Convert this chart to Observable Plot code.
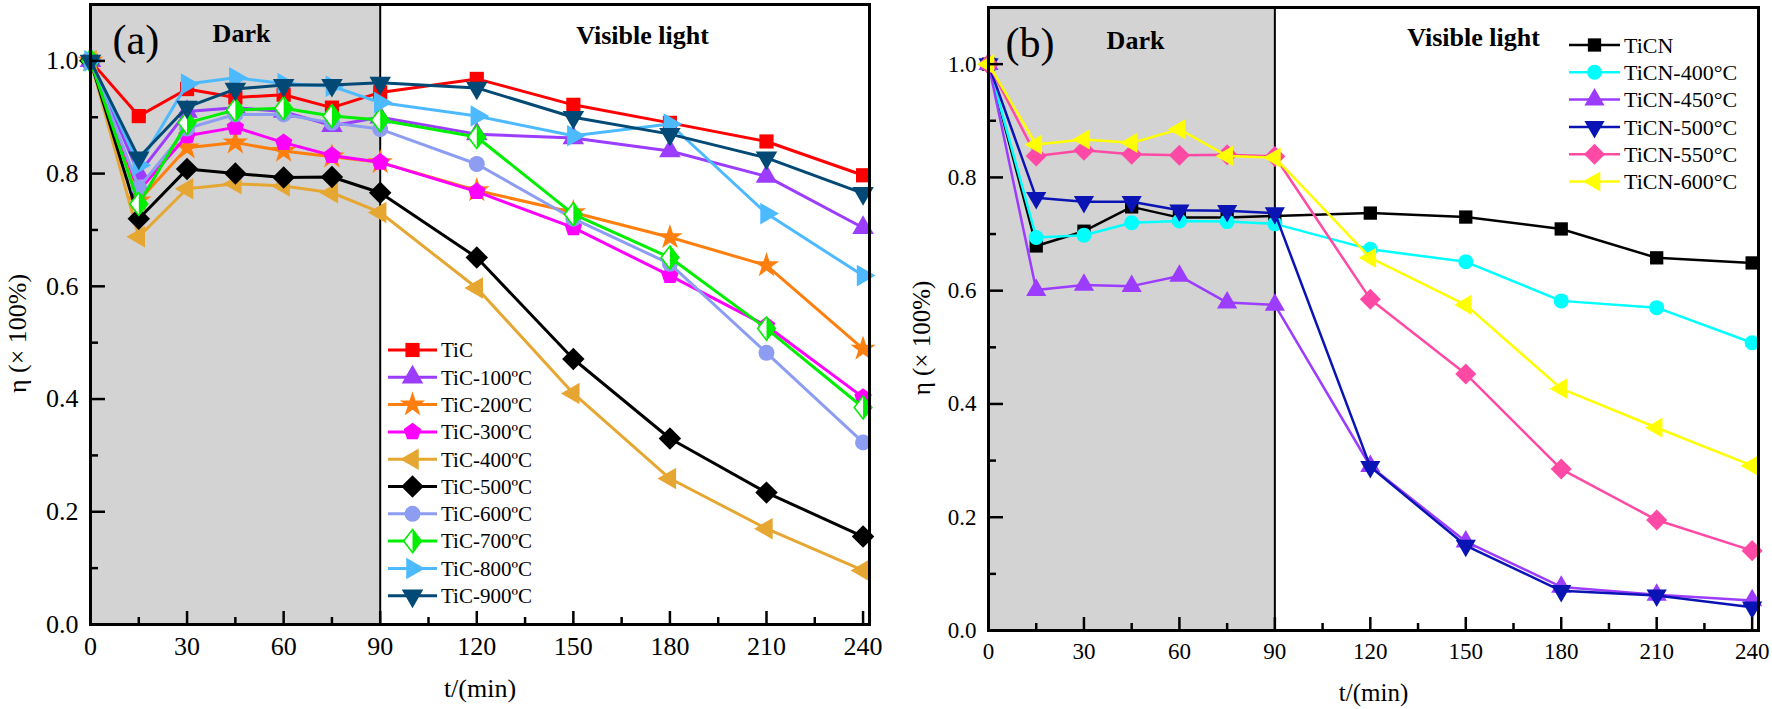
<!DOCTYPE html>
<html><head><meta charset="utf-8">
<script src="https://cdn.jsdelivr.net/npm/d3@7"></script>
<script src="https://cdn.jsdelivr.net/npm/@observablehq/plot@0.6"></script>
<style>
body{margin:0;background:#fff;}
#wrap{display:flex;width:1772px;height:709px;overflow:hidden;}
#wrap svg{font-family:"Liberation Serif","Times New Roman",serif;display:block;}
#wrap svg text{font-family:"Liberation Serif","Times New Roman",serif;}
</style></head><body><div id="wrap"></div>
<script>
// ---------- data ----------
const times = [0, 15, 30, 45, 60, 75, 90, 120, 150, 180, 210, 240];
const darkPeriod = [0, 90];
const xMajorTicks = [0, 30, 60, 90, 120, 150, 180, 210, 240];
const xMinorTicks = [15, 45, 75, 105, 135, 165, 195, 225];
const yMajorTicks = [0, 0.2, 0.4, 0.6, 0.8, 1.0];
const yMinorTicks = [0.1, 0.3, 0.5, 0.7, 0.9];

const namesA = ["TiC", "TiC-100ºC", "TiC-200ºC", "TiC-300ºC", "TiC-400ºC", "TiC-500ºC", "TiC-600ºC", "TiC-700ºC", "TiC-800ºC", "TiC-900ºC"];
const TiC     = [1, 0.902, 0.950, 0.935, 0.940, 0.917, 0.944, 0.968, 0.922, 0.890, 0.857, 0.797];
const TiC100  = [1, 0.800, 0.910, 0.917, 0.910, 0.885, 0.900, 0.870, 0.863, 0.840, 0.795, 0.704];
const TiC200  = [1, 0.752, 0.846, 0.855, 0.840, 0.830, 0.820, 0.770, 0.731, 0.687, 0.637, 0.489];
const TiC300  = [1, 0.770, 0.867, 0.882, 0.855, 0.832, 0.820, 0.768, 0.704, 0.619, 0.530, 0.403];
const TiC400  = [1, 0.688, 0.773, 0.782, 0.778, 0.766, 0.731, 0.597, 0.410, 0.259, 0.170, 0.096];
const TiC500  = [1, 0.720, 0.808, 0.800, 0.793, 0.794, 0.766, 0.651, 0.471, 0.330, 0.234, 0.156];
const TiC600  = [1, 0.775, 0.880, 0.905, 0.905, 0.890, 0.879, 0.817, 0.720, 0.640, 0.482, 0.323];
const TiC700  = [1, 0.746, 0.890, 0.913, 0.916, 0.902, 0.895, 0.865, 0.728, 0.651, 0.525, 0.385];
const TiC800  = [1, 0.815, 0.959, 0.970, 0.960, 0.955, 0.926, 0.902, 0.867, 0.888, 0.729, 0.619];
const TiC900  = [1, 0.828, 0.918, 0.950, 0.957, 0.957, 0.961, 0.952, 0.900, 0.870, 0.828, 0.765];
const colorsA = ["#ff0000", "#9b3cff", "#ff7f0e", "#ff00ff", "#e6a732", "#000000", "#8c9df2", "#00ee00", "#4dbaff", "#024a75"];

const namesB = ["TiCN", "TiCN-400°C", "TiCN-450°C", "TiCN-500°C", "TiCN-550°C", "TiCN-600°C"];
const TiCN    = [1, 0.679, 0.705, 0.748, 0.729, 0.729, 0.732, 0.737, 0.730, 0.709, 0.658, 0.649];
const TiCN400 = [1, 0.694, 0.698, 0.720, 0.723, 0.722, 0.718, 0.673, 0.651, 0.582, 0.570, 0.508];
const TiCN450 = [1, 0.601, 0.610, 0.608, 0.626, 0.579, 0.575, 0.290, 0.157, 0.077, 0.063, 0.053];
const TiCN500 = [1, 0.764, 0.757, 0.757, 0.742, 0.741, 0.737, 0.289, 0.150, 0.070, 0.062, 0.041];
const TiCN550 = [1, 0.838, 0.848, 0.841, 0.839, 0.840, 0.837, 0.585, 0.453, 0.285, 0.195, 0.141];
const TiCN600 = [1, 0.858, 0.867, 0.861, 0.885, 0.838, 0.835, 0.658, 0.575, 0.427, 0.358, 0.291];
const colorsB = ["#000000", "#00ffff", "#9b3cff", "#0a14b4", "#ff4aa5", "#ffff00"];

// ---------- symbols ----------
const S3 = Math.sqrt(3);
function triangle(rot) {
  return {draw(ctx, size) {
    const y = -Math.sqrt(size / (3 * S3));
    const pts = [[0, 2 * y], [-S3 * y, -y], [S3 * y, -y]];
    const c = Math.cos(rot), s = Math.sin(rot);
    pts.forEach(([px, py], i) => { const X = px * c - py * s, Y = px * s + py * c; i ? ctx.lineTo(X, Y) : ctx.moveTo(X, Y); });
    ctx.closePath();
  }};
}
const triUp = triangle(0), triDown = triangle(Math.PI), triLeft = triangle(-Math.PI / 2), triRight = triangle(Math.PI / 2);
const pentagon = {draw(ctx, size) {
  const R = Math.sqrt(2 * size / (5 * Math.sin(2 * Math.PI / 5)));
  for (let k = 0; k < 5; k++) { const a = -Math.PI / 2 + k * 2 * Math.PI / 5; const X = R * Math.cos(a), Y = R * Math.sin(a); k ? ctx.lineTo(X, Y) : ctx.moveTo(X, Y); }
  ctx.closePath();
}};
const diamond = {draw(ctx, size) { const h = Math.sqrt(size / 2) * 1.12; ctx.moveTo(0, -h); ctx.lineTo(h, 0); ctx.lineTo(0, h); ctx.lineTo(-h, 0); ctx.closePath(); }};
const diamondTall = {draw(ctx, size) { const h = Math.sqrt(size / 2); ctx.moveTo(0, -h * 1.15); ctx.lineTo(h * 0.88, 0); ctx.lineTo(0, h * 1.15); ctx.lineTo(-h * 0.88, 0); ctx.closePath(); }};
const halfRight = {draw(ctx, size) { const h = Math.sqrt(size / 2); ctx.moveTo(0, -h * 1.15); ctx.lineTo(h * 0.88, 0); ctx.lineTo(0, h * 1.15); ctx.closePath(); }};
const HALF = "half";

const symbolsA = [d3.symbolSquare, triUp, d3.symbolStar, pentagon, triLeft, diamond, d3.symbolCircle, HALF, triRight, triDown];
const symbolsB = [d3.symbolSquare, d3.symbolCircle, triUp, triDown, diamond, triLeft];

const seriesA = [TiC, TiC100, TiC200, TiC300, TiC400, TiC500, TiC600, TiC700, TiC800, TiC900]
  .map((values, i) => ({name: namesA[i], values, color: colorsA[i], symbol: symbolsA[i]}));
const seriesB = [TiCN, TiCN400, TiCN450, TiCN500, TiCN550, TiCN600]
  .map((values, i) => ({name: namesB[i], values, color: colorsB[i], symbol: symbolsB[i]}));

// ---------- chart ----------
function seriesMarks(s, r, sw) {
  const data = times.map((t, i) => ({t, v: s.values[i]}));
  const marks = [Plot.line(data, {x: "t", y: "v", stroke: s.color, strokeWidth: sw})];
  if (s.symbol === HALF) {
    marks.push(Plot.dot(data, {x: "t", y: "v", symbol: diamondTall, r, fill: "white", stroke: s.color, strokeWidth: 1.6}));
    marks.push(Plot.dot(data, {x: "t", y: "v", symbol: halfRight, r, fill: s.color}));
  } else {
    marks.push(Plot.dot(data, {x: "t", y: "v", symbol: s.symbol, r, fill: s.color}));
  }
  return marks;
}

function addLegend(svg, series, o) {
  const g = d3.select(svg).append("g").attr("text-anchor", "start");
  series.forEach((s, i) => {
    const y = o.y0 + i * o.dy;
    g.append("line").attr("x1", o.x0).attr("x2", o.x0 + o.len).attr("y1", y).attr("y2", y)
      .attr("stroke", s.color).attr("stroke-width", o.sw);
    const size = Math.PI * o.r * o.r, cx = o.x0 + o.len / 2;
    if (s.symbol === HALF) {
      g.append("path").attr("d", d3.symbol(diamondTall, size)()).attr("transform", `translate(${cx},${y})`)
        .attr("fill", "white").attr("stroke", s.color).attr("stroke-width", 1.6);
      g.append("path").attr("d", d3.symbol(halfRight, size)()).attr("transform", `translate(${cx},${y})`).attr("fill", s.color);
    } else {
      g.append("path").attr("d", d3.symbol(s.symbol, size)()).attr("transform", `translate(${cx},${y})`).attr("fill", s.color);
    }
    g.append("text").attr("x", o.x0 + o.len + 4).attr("y", y).attr("dy", "0.35em")
      .attr("text-anchor", "start").style("text-anchor", "start")
      .attr("font-size", o.fs).style("font-size", o.fs + "px").attr("fill", "black").text(s.name);
  });
}

function panel(o) {
  const marks = [
    Plot.rect([darkPeriod], {x1: d => d[0], x2: d => d[1], y1: 0, y2: 1.1, fill: "#d3d3d3"}),
    Plot.ruleX([darkPeriod[1]], {stroke: "black", strokeWidth: 2}),
    ...o.series.flatMap(s => seriesMarks(s, o.r, o.sw)),
    Plot.axisX({ticks: xMajorTicks, tickSize: -13, tickPadding: 25, tickFormat: d => String(d), fontSize: o.tickFs, strokeWidth: 2.5, label: null}),
    Plot.axisX({ticks: xMinorTicks, tickSize: -7, tickFormat: () => "", strokeWidth: 2.5, label: null}),
    Plot.axisY({ticks: yMajorTicks, tickSize: -15, tickPadding: 27, tickFormat: d3.format(".1f"), fontSize: o.tickFs, strokeWidth: 2.5, label: null}),
    Plot.axisY({ticks: yMinorTicks, tickSize: -8, tickFormat: () => "", strokeWidth: 2.5, label: null}),
    Plot.frame({stroke: "black", strokeWidth: 3}),
    Plot.text(["t/(min)"], {frameAnchor: "bottom", dy: o.xlabDy, fontSize: o.labFs, lineAnchor: "middle"}),
    Plot.text(["η (× 100%)"], {frameAnchor: "left", dx: o.ylabDx, dy: o.ylabDy, rotate: -90, fontSize: o.labFs, lineAnchor: "middle", textAnchor: "middle"}),
    Plot.text([o.tag], {frameAnchor: "top-left", dx: o.tagDx, dy: o.tagDy, fontSize: 42, textAnchor: "start", lineAnchor: "middle"}),
    Plot.text(["Dark"], {frameAnchor: "top-left", dx: o.darkDx, dy: o.darkDy, fontSize: 26, fontWeight: "bold", textAnchor: "middle", lineAnchor: "middle"}),
    Plot.text(["Visible light"], {frameAnchor: "top-left", dx: o.visDx, dy: o.visDy, fontSize: 26, fontWeight: "bold", textAnchor: "middle", lineAnchor: "middle"})
  ];
  const svg = Plot.plot({
    width: o.width, height: 709,
    marginLeft: o.ml, marginRight: o.mr, marginTop: o.mt, marginBottom: o.mb,
    x: {domain: [0, 242], label: null},
    y: {domain: [0, 1.1], label: null},
    style: {fontFamily: "'Liberation Serif','Times New Roman',serif", fontSize: "24px", color: "black", background: "white", overflow: "visible"},
    marks
  });
  addLegend(svg, o.series, o.legend);
  return svg;
}

const wrap = document.getElementById("wrap");
wrap.appendChild(panel({
  series: seriesA, width: 900, ml: 90, mr: 31, mt: 4, mb: 85, r: 8, sw: 3, tickFs: 26, labFs: 26,
  xlabDy: 64, ylabDx: -73, ylabDy: 19, tag: "(a)", tagDx: 22, tagDy: 36,
  darkDx: 151, darkDy: 29, visDx: 552, visDy: 31,
  legend: {x0: 388, y0: 350, dy: 27.3, len: 49, r: 8, sw: 3, fs: 21}
}));
wrap.appendChild(panel({
  series: seriesB, width: 872, ml: 88, mr: 14, mt: 7, mb: 79, r: 7.5, sw: 2.5, tickFs: 23, labFs: 25,
  xlabDy: 62, ylabDx: -67, ylabDy: 19, tag: "(b)", tagDx: 17, tagDy: 36,
  darkDx: 147, darkDy: 33, visDx: 485, visDy: 30,
  legend: {x0: 669, y0: 45, dy: 27.3, len: 51, r: 7.5, sw: 2.5, fs: 22}
}));
</script></body></html>
